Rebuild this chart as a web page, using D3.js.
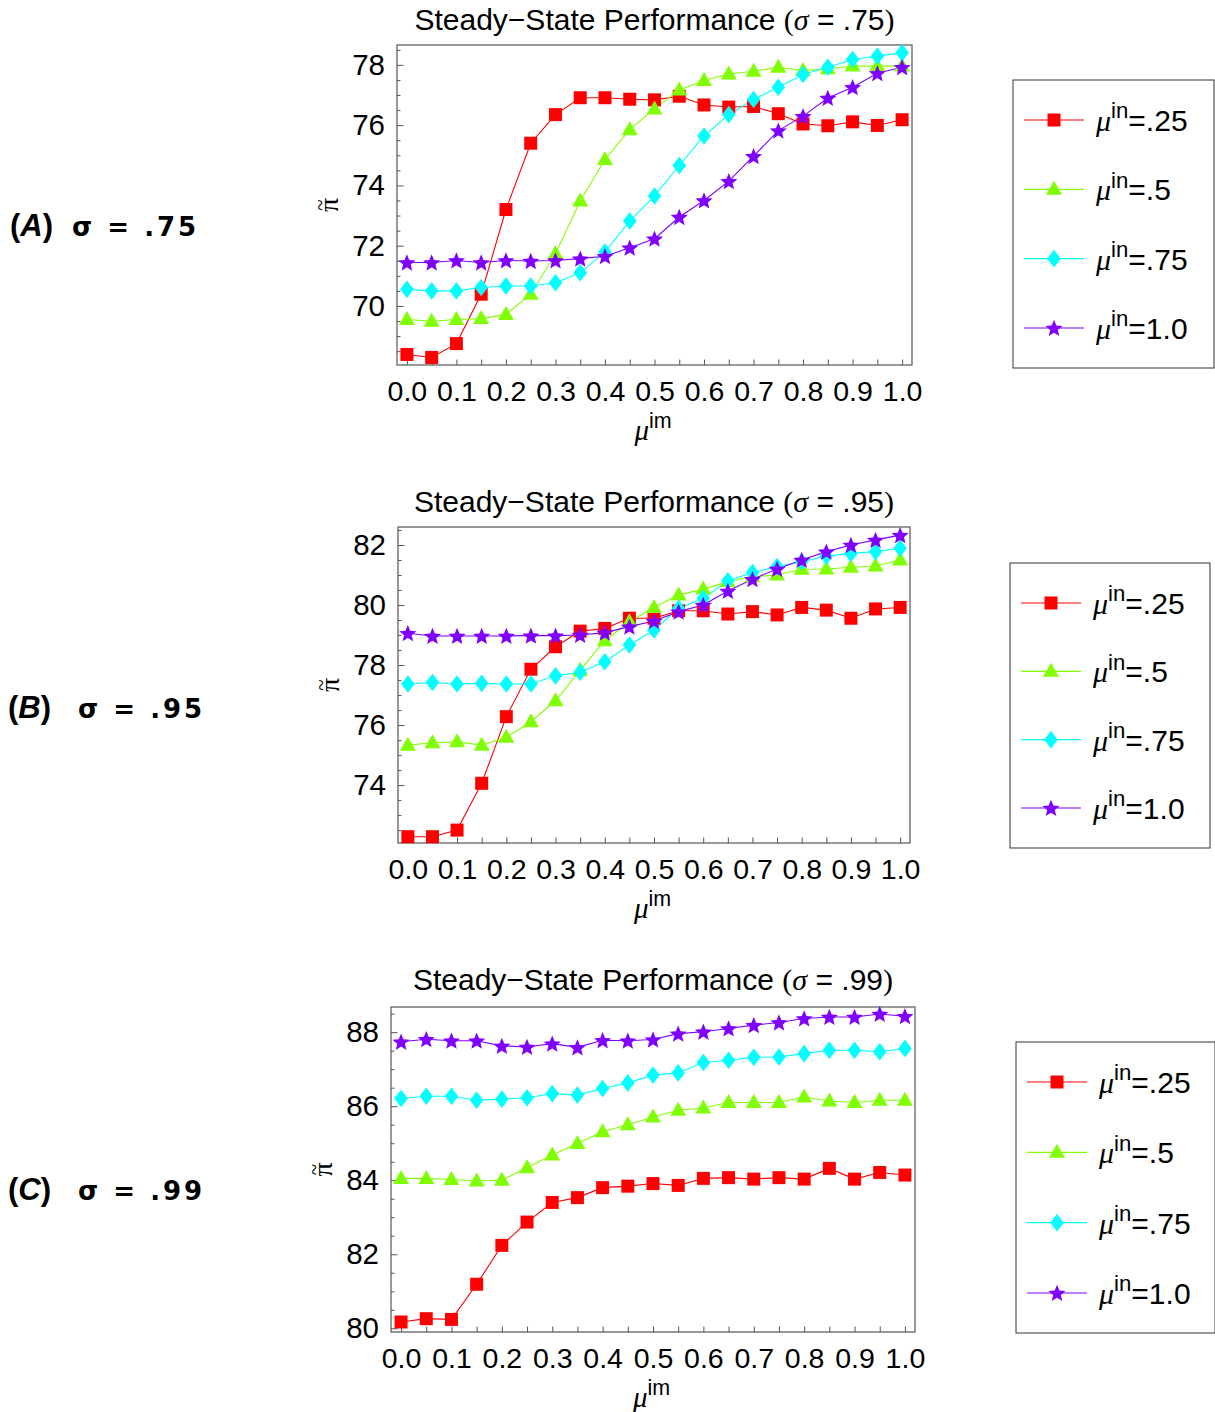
<!DOCTYPE html>
<html><head><meta charset="utf-8">
<script src="https://cdn.jsdelivr.net/npm/d3@7/dist/d3.min.js"></script>
<style>body{margin:0;background:#fff} svg{display:block}</style>
</head><body>
<script>
// ---------- data ----------
const muIm = [0,0.05,0.1,0.15,0.2,0.25,0.3,0.35,0.4,0.45,0.5,0.55,0.6,0.65,0.7,0.75,0.8,0.85,0.9,0.95,1.0];
const xTickLabels = ["0.0","0.1","0.2","0.3","0.4","0.5","0.6","0.7","0.8","0.9","1.0"];
const seriesNames = [".25",".5",".75","1.0"];
const seriesColors = ["#ff0000","#80ff00","#00ffff","#8000ff"];
const seriesShapes = ["square","triangle","diamond","star"];
const panelLetters = ["A","B","C"];
const sigmaLabels = [".75",".95",".99"];

// Panel A (sigma = .75)
const a25  = [68.39,68.29,68.75,70.39,73.20,75.40,76.35,76.91,76.91,76.86,76.84,76.96,76.67,76.60,76.62,76.38,76.04,75.98,76.11,75.99,76.18];
const a50  = [69.55,69.49,69.55,69.58,69.72,70.39,71.73,73.48,74.86,75.85,76.54,77.17,77.48,77.70,77.79,77.92,77.81,77.87,77.96,77.96,77.96];
const a75  = [70.55,70.50,70.50,70.61,70.66,70.66,70.77,71.10,71.79,72.82,73.65,74.66,75.64,76.35,76.85,77.26,77.68,77.92,78.18,78.29,78.40];
const a100 = [71.44,71.44,71.51,71.44,71.51,71.49,71.51,71.57,71.65,71.93,72.23,72.95,73.50,74.14,74.97,75.82,76.30,76.90,77.26,77.72,77.92];
// Panel B (sigma = .95)
const b25  = [72.28,72.28,72.50,74.06,76.28,77.86,78.61,79.13,79.22,79.56,79.56,79.81,79.81,79.70,79.78,79.67,79.92,79.83,79.56,79.87,79.92];
const b50  = [75.33,75.41,75.44,75.33,75.59,76.11,76.81,77.83,78.81,79.44,79.92,80.33,80.53,80.78,80.94,81.00,81.19,81.20,81.26,81.30,81.50];
const b75  = [77.37,77.42,77.37,77.39,77.37,77.37,77.64,77.76,78.11,78.67,79.17,79.89,80.22,80.81,81.08,81.28,81.44,81.63,81.72,81.78,81.89];
const b100 = [79.06,78.97,78.97,78.97,78.97,78.98,78.98,79.00,79.08,79.28,79.47,79.78,80.00,80.47,80.86,81.20,81.50,81.78,82.00,82.17,82.33];
// Panel C (sigma = .99)
const c25  = [80.17,80.26,80.24,81.19,82.24,82.87,83.40,83.53,83.80,83.84,83.91,83.86,84.05,84.07,84.03,84.07,84.03,84.32,84.03,84.21,84.14];
const c50  = [84.05,84.05,84.02,83.98,84.00,84.34,84.68,84.99,85.31,85.50,85.71,85.89,85.95,86.10,86.10,86.10,86.25,86.14,86.10,86.16,86.16];
const c75  = [86.21,86.27,86.27,86.16,86.19,86.23,86.34,86.30,86.48,86.63,86.84,86.90,87.18,87.24,87.32,87.33,87.42,87.51,87.51,87.47,87.56];
const c100 = [87.74,87.81,87.77,87.77,87.63,87.60,87.69,87.59,87.78,87.77,87.80,87.96,88.01,88.10,88.19,88.26,88.37,88.41,88.41,88.49,88.43];

const yTicksA = [70,72,74,76,78];
const yTicksB = [74,76,78,80,82];
const yTicksC = [80,82,84,86,88];
const yDomainA = [68.04,78.66];
const yDomainB = [72.07,82.60];
const yDomainC = [79.90,88.68];
const xDomain = [-0.02,1.02];

// ---------- layout ----------
const W = 1215, H = 1412;
const panels = [
  {series:[a25,a50,a75,a100], yTicks:yTicksA, yDomain:yDomainA,
   frame:{x0:397,x1:912,y0:45,y1:365}, legend:{x:1013,y:80,w:201,h:288}, labelY:236, sigmaX:72, titleY:30, piX:330},
  {series:[b25,b50,b75,b100], yTicks:yTicksB, yDomain:yDomainB,
   frame:{x0:398,x1:910,y0:527,y1:843}, legend:{x:1010,y:563,w:200,h:285}, labelY:718, sigmaX:78, titleY:512, piX:331},
  {series:[c25,c50,c75,c100], yTicks:yTicksC, yDomain:yDomainC,
   frame:{x0:391,x1:915,y0:1007,y1:1332}, legend:{x:1016,y:1042,w:199,h:291}, labelY:1200, sigmaX:78, titleY:990, piX:324}
];

const SANS = "'Liberation Sans', Arial, sans-serif";
const SERIF = "'Liberation Serif', 'Times New Roman', serif";
const BOLD = "'DejaVu Sans', Verdana, sans-serif";
const FRAME = "#555";

const svg = d3.select("body").append("svg").attr("width",W).attr("height",H);

function markerPath(shape){
  const p = d3.path();
  if(shape==="square"){ p.rect(-6.5,-6.5,13,13); }
  else if(shape==="triangle"){ p.moveTo(0,-8.5); p.lineTo(8,5.5); p.lineTo(-8,5.5); p.closePath(); }
  else if(shape==="diamond"){ p.moveTo(0,-8.8); p.lineTo(6.8,0); p.lineTo(0,8.8); p.lineTo(-6.8,0); p.closePath(); }
  else { // star
    const R=9, r=4;
    for(let k=0;k<10;k++){
      const rad = k%2===0?R:r;
      const a = -Math.PI/2 + k*Math.PI/5;
      const px = rad*Math.cos(a), py = rad*Math.sin(a)+0.8;
      if(k===0) p.moveTo(px,py); else p.lineTo(px,py);
    }
    p.closePath();
  }
  return p.toString();
}

function muLabel(sel, x, y, sup, rest, size){
  const t = sel.append("text").attr("x",x).attr("y",y).attr("font-size",size).attr("fill","#000");
  t.append("tspan").attr("font-family",SERIF).attr("font-style","italic").text("μ");
  t.append("tspan").attr("font-family",SANS).attr("font-size",size*0.74).attr("dy",-size*0.42).text(sup);
  if(rest) t.append("tspan").attr("font-family",SANS).attr("dy",size*0.42).text(rest);
  return t;
}

panels.forEach((P,pi)=>{
  const f = P.frame;
  const x = d3.scaleLinear().domain(xDomain).range([f.x0,f.x1]);
  const y = d3.scaleLinear().domain(P.yDomain).range([f.y1,f.y0]);
  const g = svg.append("g");

  // title
  const cx = (f.x0+f.x1)/2;
  const tt = g.append("text").attr("x",cx).attr("y",P.titleY).attr("text-anchor","middle")
    .attr("font-size",30).attr("fill","#000");
  tt.append("tspan").attr("font-family",SANS).text("Steady\u2212State Performance ");
  tt.append("tspan").attr("font-family",SERIF).text("(");
  tt.append("tspan").attr("font-family",SERIF).attr("font-style","italic").text("σ");
  tt.append("tspan").attr("font-family",SANS).text(" = " + sigmaLabels[pi]);
  tt.append("tspan").attr("font-family",SERIF).text(")");

  // minor y ticks
  const minor = d3.range(Math.ceil(P.yDomain[0]*2)/2, P.yDomain[1], 0.5).filter(v=>!P.yTicks.includes(v));
  g.append("g").attr("transform",`translate(${f.x0},0)`)
    .call(d3.axisLeft(y).tickValues(minor).tickSizeInner(-3.5).tickSizeOuter(0).tickFormat(""))
    .call(s=>{s.select(".domain").remove(); s.selectAll("line").attr("stroke",FRAME);});
  // major y ticks
  g.append("g").attr("transform",`translate(${f.x0},0)`)
    .call(d3.axisLeft(y).tickValues(P.yTicks).tickSizeInner(-6.5).tickSizeOuter(0).tickPadding(12).tickFormat(d3.format("d")))
    .call(s=>{s.select(".domain").remove(); s.selectAll("line").attr("stroke",FRAME);
      s.selectAll("text").attr("font-family",SANS).attr("font-size",29.5).attr("fill","#000");});
  // x ticks
  g.append("g").attr("transform",`translate(0,${f.y1})`)
    .call(d3.axisBottom(x).tickValues(muIm).tickSizeInner(-5.5).tickSizeOuter(0).tickPadding(16)
      .tickFormat((d,i)=> i%2===0 ? xTickLabels[i/2] : ""))
    .call(s=>{s.select(".domain").remove(); s.selectAll("line").attr("stroke",FRAME);
      s.selectAll("text").attr("font-family",SANS).attr("font-size",28.5).attr("fill","#000");});

  // frame
  g.append("rect").attr("x",f.x0).attr("y",f.y0).attr("width",f.x1-f.x0).attr("height",f.y1-f.y0)
    .attr("fill","none").attr("stroke",FRAME).attr("stroke-width",1.2);

  // axis labels
  muLabel(g, cx-20, f.y1+75, "im", null, 29);
  const pg = g.append("g").attr("transform",`translate(${P.piX},${(f.y0+f.y1)/2}) rotate(-90)`);
  pg.append("text").attr("text-anchor","middle").attr("y",8).attr("font-family",SERIF)
    .attr("font-size",28).text("π");
  pg.append("text").attr("text-anchor","middle").attr("y",-3).attr("font-family",SERIF)
    .attr("font-size",21).text("~");

  // series
  const line = d3.line().x((d,i)=>x(muIm[i])).y(d=>y(d));
  P.series.forEach((vals,si)=>{
    g.append("path").attr("d",line(vals)).attr("fill","none")
      .attr("stroke",seriesColors[si]).attr("stroke-width",1.1);
  });
  P.series.forEach((vals,si)=>{
    g.append("g").selectAll("path").data(vals).join("path")
      .attr("transform",(d,i)=>`translate(${x(muIm[i])},${y(d)})`)
      .attr("d",markerPath(seriesShapes[si])).attr("fill",seriesColors[si]);
  });

  // legend
  const L = P.legend;
  const lg = svg.append("g");
  lg.append("rect").attr("x",L.x).attr("y",L.y).attr("width",L.w).attr("height",L.h)
    .attr("fill","#fff").attr("stroke","#333").attr("stroke-width",1);
  const step = (L.h-80)/3;
  seriesNames.forEach((nm,si)=>{
    const yy = L.y+40+si*step;
    lg.append("line").attr("x1",L.x+11).attr("x2",L.x+71).attr("y1",yy).attr("y2",yy)
      .attr("stroke",seriesColors[si]).attr("stroke-width",1.1);
    lg.append("path").attr("transform",`translate(${L.x+41},${yy})`)
      .attr("d",markerPath(seriesShapes[si])).attr("fill",seriesColors[si]);
    muLabel(lg, L.x+83, yy+11, "in", "="+nm, 30);
  });

  // left panel label
  const lt = svg.append("text").attr("x",pi===0?10:8).attr("y",P.labelY).attr("font-size",31)
    .attr("font-weight","bold").attr("fill","#000").attr("font-family",SANS);
  lt.append("tspan").text("(");
  lt.append("tspan").attr("font-style","italic").text(panelLetters[pi]);
  lt.append("tspan").text(")");
  svg.append("text").attr("x",P.sigmaX).attr("y",P.labelY).attr("font-size",26)
    .attr("font-weight","bold").attr("fill","#000").attr("font-family",BOLD)
    .attr("letter-spacing",3).text("σ = ." + sigmaLabels[pi].slice(1));
});
</script>
</body></html>
